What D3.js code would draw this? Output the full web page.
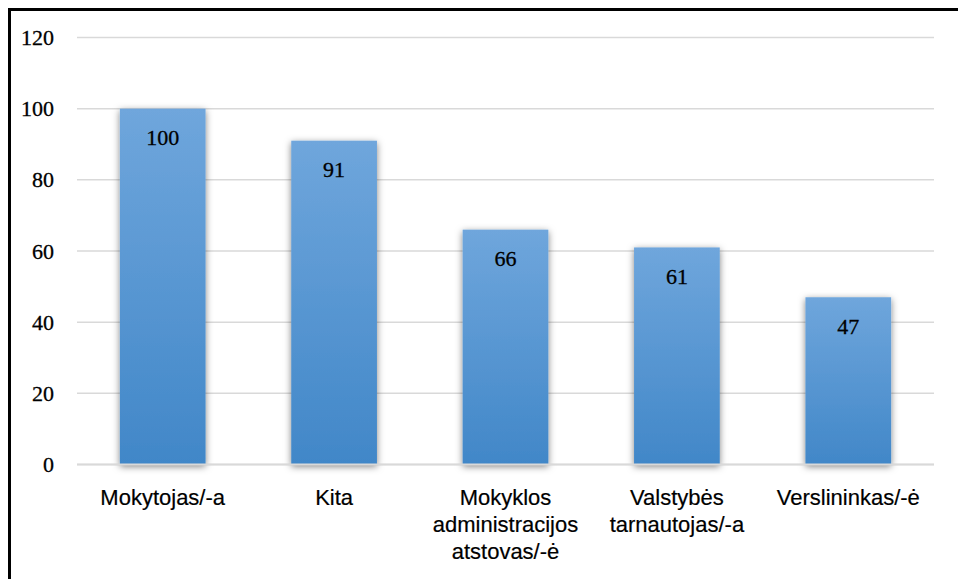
<!DOCTYPE html>
<html>
<head>
<meta charset="utf-8">
<script src="https://cdn.jsdelivr.net/npm/d3@7"></script>
<style>
  body { margin: 0; background: #fff; }
  svg { display: block; }
</style>
</head>
<body>
<div id="chart"></div>
<script>
// data
var categories = ["Mokytojas/-a", "Kita", "Mokyklos administracijos atstovas/-ė", "Valstybės tarnautojas/-a", "Verslininkas/-ė"];
var labelLines = [["Mokytojas/-a"], ["Kita"], ["Mokyklos", "administracijos", "atstovas/-ė"], ["Valstybės", "tarnautojas/-a"], ["Verslininkas/-ė"]];
var values = [100, 91, 66, 61, 47];
var yTicks = [0, 20, 40, 60, 80, 100, 120];

const W = 958, H = 579;
const margin = { top: 37.5, right: 24, bottom: 114.5, left: 77 },
    width = W - margin.left - margin.right,
    height = H - margin.top - margin.bottom;

const root = d3.select("#chart")
    .append("svg")
    .attr("width", W)
    .attr("height", H);

const defs = root.append("defs");

var grad = defs.append("linearGradient")
    .attr("id", "barGrad")
    .attr("x1", "0%").attr("y1", "0%")
    .attr("x2", "0%").attr("y2", "100%");
grad.append("stop").attr("offset", "0%").attr("stop-color", "#6fa6dc");
grad.append("stop").attr("offset", "100%").attr("stop-color", "#4187c8");

var shadow = defs.append("filter")
    .attr("id", "shadow")
    .attr("x", "-20%").attr("y", "-10%")
    .attr("width", "140%").attr("height", "120%");
shadow.append("feDropShadow")
    .attr("dx", 0).attr("dy", 2)
    .attr("stdDeviation", 3.5)
    .attr("flood-color", "#000")
    .attr("flood-opacity", 0.5);

// outer frame (clipped at the right and bottom in the original)
root.append("rect")
    .attr("x", 9.5).attr("y", 9.5)
    .attr("width", W + 20).attr("height", H + 20)
    .attr("fill", "none")
    .attr("stroke", "#000")
    .attr("stroke-width", 3);

const svg = root.append("g")
    .attr("transform", `translate(${margin.left}, ${margin.top})`);

var x = d3.scaleBand()
    .domain(categories)
    .range([0, width])
    .paddingInner(0.5)
    .paddingOuter(0.25);

var y = d3.scaleLinear()
    .domain([0, 120])
    .range([height, 0]);

// gridlines
svg.append("g")
    .selectAll("line")
    .data(yTicks)
    .join("line")
    .attr("x1", 0).attr("x2", width)
    .attr("y1", d => y(d)).attr("y2", d => y(d))
    .attr("stroke", "#d9d9d9")
    .attr("stroke-width", 1.5);

// y axis labels
var yAxis = svg.append("g")
    .call(d3.axisLeft(y).tickValues(yTicks).tickSize(0).tickPadding(23));
yAxis.select(".domain").remove();
yAxis.selectAll("text")
    .attr("font-family", "'Liberation Serif', serif")
    .attr("font-size", 22)
    .attr("fill", "#000")
    .attr("stroke", "#000")
    .attr("stroke-width", 0.3);

// bars
svg.append("g")
    .selectAll("rect")
    .data(values)
    .join("rect")
    .attr("x", (d, i) => x(categories[i]))
    .attr("y", d => y(d))
    .attr("width", x.bandwidth())
    .attr("height", d => height - y(d))
    .attr("fill", "url(#barGrad)")
    .attr("filter", "url(#shadow)");

// value labels
svg.append("g")
    .selectAll("text")
    .data(values)
    .join("text")
    .attr("x", (d, i) => x(categories[i]) + x.bandwidth() / 2)
    .attr("y", d => y(d) + 29)
    .attr("dy", "0.35em")
    .attr("text-anchor", "middle")
    .attr("font-family", "'Liberation Serif', serif")
    .attr("font-size", 22)
    .attr("fill", "#000")
    .attr("stroke", "#000")
    .attr("stroke-width", 0.3)
    .text(d => d);

// x axis line
svg.append("line")
    .attr("x1", 0).attr("x2", width)
    .attr("y1", y(0)).attr("y2", y(0))
    .attr("stroke", "#d9d9d9")
    .attr("stroke-width", 2);

// category labels
var xl = svg.append("g")
    .selectAll("text")
    .data(categories)
    .join("text")
    .attr("x", d => x(d) + x.bandwidth() / 2)
    .attr("y", height + 40)
    .attr("text-anchor", "middle")
    .attr("font-family", "'Liberation Sans', sans-serif")
    .attr("font-size", 22)
    .attr("fill", "#000")
    .attr("stroke", "#000")
    .attr("stroke-width", 0.2);

xl.selectAll("tspan")
    .data((d, i) => labelLines[i])
    .join("tspan")
    .attr("x", function () { return d3.select(this.parentNode).attr("x"); })
    .attr("dy", (d, j) => j === 0 ? 0 : 27)
    .text(d => d);
</script>
</body>
</html>
